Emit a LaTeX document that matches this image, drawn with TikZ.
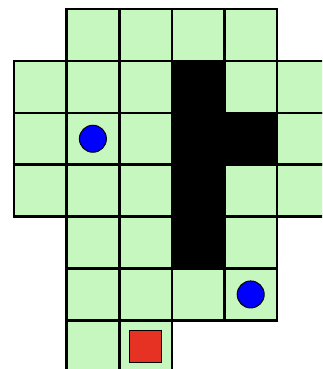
\documentclass[tikz,border=0pt]{standalone}
\definecolor{cellgreen}{RGB}{198,247,190}
\definecolor{tokenred}{RGB}{229,50,34}
\begin{document}
\begin{tikzpicture}[x=1pt,y=-1pt,
  cell/.style={fill=cellgreen,draw=black,line width=2.6pt},
  wall/.style={fill=black,draw=black,line width=2.6pt},
  ball/.style={circle,fill=blue,draw=black,line width=1pt,minimum size=27pt,inner sep=0pt},
  goal/.style={rectangle,fill=tokenred,draw=black,line width=1pt,minimum size=32pt,inner sep=0pt}]
\useasboundingbox (0,0) rectangle (322,369);
\begin{scope}
\clip (0,0) rectangle (322,369);
\def\cw{52.6}\def\ch{51.9}
\foreach \r/\c in {0/1,0/2,0/3,0/4,
  1/0,1/1,1/2,1/4,1/5,
  2/0,2/1,2/2,2/5,
  3/0,3/1,3/2,3/4,3/5,
  4/1,4/2,4/4,
  5/1,5/2,5/3,5/4,
  6/1,6/2}{
  \draw[cell] ({14+\c*\cw},{9+\r*\ch}) rectangle ++(\cw,\ch);
}
\draw[wall] ({14+3*\cw},{9+1*\ch}) -- ({14+4*\cw},{9+1*\ch}) -- ({14+4*\cw},{9+2*\ch})
  -- ({14+5*\cw},{9+2*\ch}) -- ({14+5*\cw},{9+3*\ch}) -- ({14+4*\cw},{9+3*\ch})
  -- ({14+4*\cw},{9+5*\ch}) -- ({14+3*\cw},{9+5*\ch}) -- cycle;
\node[ball] (b1) at ({14+1.5*\cw},{9+2.5*\ch}) {};
\node[ball] (b2) at ({14+4.5*\cw},{9+5.5*\ch}) {};
\node[goal] (g) at ({14+2.5*\cw},{9+6.5*\ch}) {};
\end{scope}
\end{tikzpicture}
\end{document}
